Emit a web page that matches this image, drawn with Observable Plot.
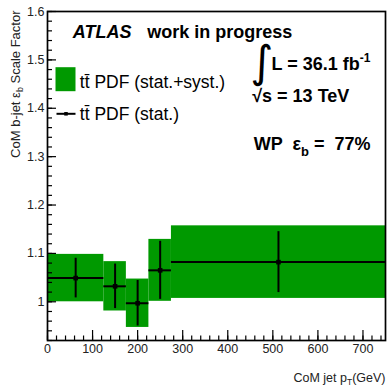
<!DOCTYPE html>
<html>
<head>
<meta charset="utf-8">
<script src="https://cdn.jsdelivr.net/npm/d3@7"></script>
<script src="https://cdn.jsdelivr.net/npm/@observablehq/plot@0.6"></script>
<style>
  html, body { margin: 0; padding: 0; background: #fff; }
</style>
</head>
<body>
<div id="chart"></div>
<script>
// CoM b-jet tagging efficiency scale factor vs jet pT, ttbar PDF calibration
const binLow      = [0, 125, 175, 225, 275];
const binHigh     = [125, 175, 225, 275, 750];
const binCenter   = [62.5, 150, 200, 250, 512.5];
const scaleFactor = [1.049, 1.032, 0.997, 1.065, 1.082];
const statError   = [0.041, 0.046, 0.047, 0.060, 0.063];
const totalError  = [0.049, 0.051, 0.050, 0.064, 0.075];

const xTicks = [0, 100, 200, 300, 400, 500, 600, 700];
const xMinorTicks = d3.range(0, 751, 20);
const yTicks = [1, 1.1, 1.2, 1.3, 1.4, 1.5, 1.6];
const yMinorTicks = d3.range(46, 81).map(i => i / 50);

const green = "#009900";
const font = "'Liberation Sans', Arial, Helvetica, sans-serif";

const bins = binLow.map((lo, i) => ({
  lo, hi: binHigh[i], pt: binCenter[i], sf: scaleFactor[i],
  stat: statError[i], tot: totalError[i]
}));

// text strings and their rich (sub/superscript) versions
const yTitle = "CoM b-jet εb Scale Factor";
const xTitle = "CoM jet pT(GeV)";
const lumiText = "L = 36.1 fb-1";
const wpText = "WP  εb =  77%";
const legendSyst = "tt\u0304 PDF (stat.+syst.)";
const legendStat = "tt\u0304 PDF (stat.)";
const richText = new Map([
  [yTitle, `CoM b-jet ε<tspan dy="3" font-size="9">b</tspan><tspan dy="-3"> Scale Factor</tspan>`],
  [xTitle, `CoM jet p<tspan dy="3" font-size="8.5">T</tspan><tspan dy="-3">(GeV)</tspan>`],
  [lumiText, `L = 36.1 fb<tspan dy="-8" font-size="12">-1</tspan>`],
  [wpText, `WP  ε<tspan dy="6" font-size="13">b</tspan><tspan dy="-6"> =  77%</tspan>`]
]);

// legend swatch shapes
const boxShape = { draw(ctx) { ctx.rect(-10, -12, 20, 24); } };
const lineShape = { draw(ctx) { ctx.moveTo(-9.5, 0); ctx.lineTo(9.5, 0); } };

const note = (str, opts) => Plot.text([str], {
  text: d => d, frameAnchor: "top-left", textAnchor: "start", lineAnchor: "bottom",
  fill: "#000", fontFamily: font, ...opts
});

const plot = Plot.plot({
  width: 387,
  height: 386,
  marginLeft: 47,
  marginRight: 2,
  marginTop: 11,
  marginBottom: 46,
  style: { fontFamily: font, background: "#fff" },
  x: { domain: [0, 750] },
  y: { domain: [0.92, 1.6] },
  marks: [
    // total (stat.+syst.) uncertainty band
    Plot.rect(bins, { x1: "lo", x2: "hi", y1: d => d.sf - d.tot, y2: d => d.sf + d.tot, fill: green }),
    // stat. error bars
    Plot.ruleY(bins, { x1: "lo", x2: "hi", y: "sf", stroke: "#000", strokeWidth: 2 }),
    Plot.ruleX(bins, { x: "pt", y1: d => d.sf - d.stat, y2: d => d.sf + d.stat, stroke: "#000", strokeWidth: 2 }),
    Plot.dot(bins, { x: "pt", y: "sf", symbol: "square", r: 2.6, fill: "#000" }),

    // inward ticks
    Plot.axisX(xMinorTicks, { tickSize: -4.5, tickFormat: () => "", label: null, strokeWidth: 1.2 }),
    Plot.axisX(xTicks, { tickSize: -10, tickFormat: () => "", label: null, strokeWidth: 1.2 }),
    Plot.axisY(yMinorTicks, { tickSize: -5, tickFormat: () => "", label: null, strokeWidth: 1.2 }),
    Plot.axisY(yTicks, { tickSize: -9, tickFormat: () => "", label: null, strokeWidth: 1.2 }),
    // tick labels
    Plot.axisX(xTicks, { tickSize: 0, tickPadding: 4, tickFormat: d => `${d}`, label: null, fontSize: 12.5, fill: "#222" }),
    Plot.axisY(yTicks, { tickSize: 0, tickPadding: 3, tickFormat: d => `${d}`, label: null, fontSize: 12.5, fill: "#222" }),
    Plot.frame({ stroke: "#000", strokeWidth: 1.7 }),

    // axis titles
    Plot.text([yTitle], { text: d => d, frameAnchor: "top-left", rotate: -90, textAnchor: "end",
      lineAnchor: "bottom", dx: -28, dy: -1, fontSize: 13, fill: "#222" }),
    Plot.text([xTitle], { text: d => d, frameAnchor: "bottom-right", textAnchor: "end",
      lineAnchor: "bottom", dx: 0, dy: 41, fontSize: 12.5, fill: "#222" }),

    // labels
    note("ATLAS", { dx: 25.3, dy: 26.3, fontSize: 18, fontWeight: "bold", fontStyle: "italic" }),
    note("work in progress", { dx: 99.7, dy: 26.3, fontSize: 18, fontWeight: "bold" }),
    note("∫", { dx: 203, dy: 65, fontSize: 44, fontFamily: "'DejaVu Sans', sans-serif" }),
    note(lumiText, { dx: 224, dy: 58.5, fontSize: 18, fontWeight: "bold" }),
    note("√s = 13 TeV", { dx: 204.7, dy: 90.7, fontSize: 18, fontWeight: "bold" }),
    note(wpText, { dx: 206.3, dy: 138.3, fontSize: 18, fontWeight: "bold" }),

    // legend
    Plot.dot([0], { frameAnchor: "top-left", dx: 18, dy: 67.7, symbol: boxShape, r: 1, fill: green, stroke: "none" }),
    note(legendSyst, { dx: 32.3, dy: 76.3, fontSize: 17.5 }),
    Plot.dot([0], { frameAnchor: "top-left", dx: 18.5, dy: 102.3, symbol: lineShape, r: 1, fill: "none", stroke: "#000", strokeWidth: 2 }),
    Plot.dot([0], { frameAnchor: "top-left", dx: 18.5, dy: 102.3, symbol: "square", r: 2, fill: "#000" }),
    note(legendStat, { dx: 32.3, dy: 108, fontSize: 17.5 })
  ]
});

d3.select(plot).selectAll("text").each(function () {
  const html = richText.get(this.textContent);
  if (html) this.innerHTML = html;
});

document.getElementById("chart").appendChild(plot);
</script>
</body>
</html>
